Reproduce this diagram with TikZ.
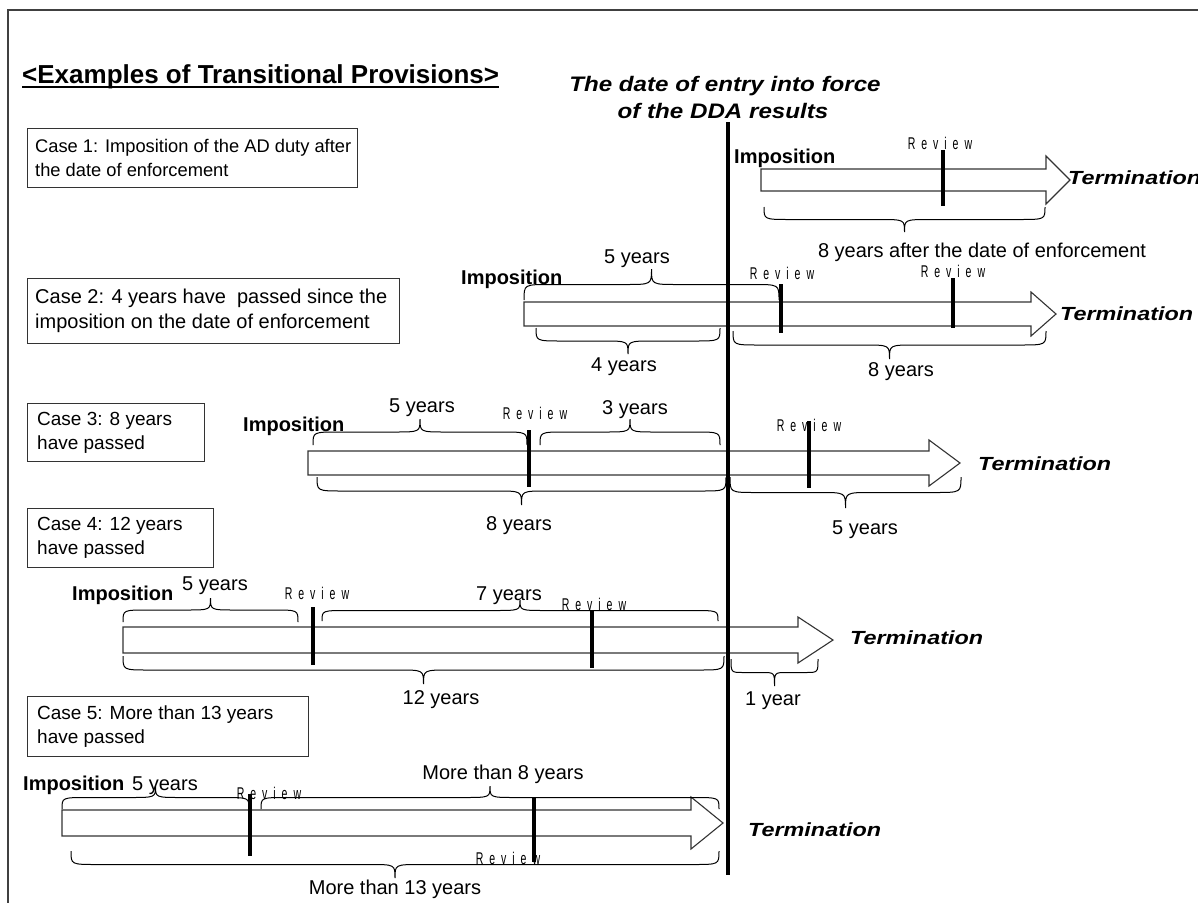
\documentclass[tikz,border=0pt]{standalone}
\usepackage{fontspec}
\setmainfont{Liberation Sans}
\newfontfamily\revfont{Liberation Sans}[FakeStretch=0.62,LetterSpace=35]
\newfontfamily\termfont{Liberation Sans}[FakeStretch=1.23]
\newfontfamily\hdrfont{Liberation Sans}[FakeStretch=1.15]
\newcommand{\tbrace}[4]{%
  \pgfmathsetmacro{\bxm}{(#1+#2)/2}%
  \pgfmathsetmacro{\bym}{(#3+#4)/2}%
  \pgfmathsetmacro{\brr}{min(26,(#2-#1)/7)}%
  \draw[brc] (#1,#3) .. controls (#1,\bym) .. (#1+\brr,\bym) -- (\bxm-\brr,\bym) .. controls (\bxm,\bym) .. (\bxm,#4) .. controls (\bxm,\bym) .. (\bxm+\brr,\bym) -- (#2-\brr,\bym) .. controls (#2,\bym) .. (#2,#3);%
}
\newcommand{\blockarrow}[6]{%
  \draw[body] (#1,#4-#5) -- (#2,#4-#5) -- (#2,#4-#6) -- (#3,#4) -- (#2,#4+#6) -- (#2,#4+#5) -- (#1,#4+#5) -- cycle;%
}
\begin{document}
\begin{tikzpicture}[x=1pt,y=-1pt,
  frame/.style={draw=black!75, line width=1.2pt},
  body/.style={draw=black!80, line width=1.1pt, fill=white, line join=miter},
  tick/.style={line width=3.5pt, black},
  vline/.style={line width=4pt, black},
  brc/.style={draw=black, line width=1pt},
  lab/.style={font=\fontsize{20}{24}\selectfont, inner sep=0pt, anchor=base},
  imp/.style={font=\fontsize{20}{24}\selectfont\bfseries, inner sep=0pt, anchor=base west},
  term/.style={font=\termfont\fontsize{19}{22}\selectfont\bfseries\itshape, inner sep=0pt, anchor=base west},
  rev/.style={font=\revfont\fontsize{17}{20}\selectfont, inner sep=0pt, anchor=base},
  hdr/.style={font=\hdrfont\fontsize{21}{25}\selectfont\bfseries\itshape, inner sep=0pt, anchor=base},
  casebox/.style={draw=black!80, line width=1.2pt, anchor=north west, inner sep=0pt},
  boxtext/.style={font=\fontsize{19}{24}\selectfont, align=left, anchor=west, inner sep=0pt},
]
\useasboundingbox (0,0) rectangle (1198,902);
\fill[white] (0,0) rectangle (1198,902);
% frame
\draw[frame] (8,903) -- (8,10) -- (1199,10);
% title
\node[font=\fontsize{26}{31}\selectfont\bfseries, inner sep=0pt, anchor=base west] (title) at (22,83) {<Examples of Transitional Provisions>};
\draw[line width=1.8pt] ([yshift=-4pt]title.base west) -- ([yshift=-4pt]title.base east);
% header
\node[hdr] (h1) at (725,91) {The date of entry into force};
\node[hdr] (h2) at (723,118) {of the DDA results};

% case boxes
\node[casebox, minimum width=330pt, minimum height=59pt] (c1) at (27,128) {};
\node[boxtext, font=\fontsize{18.3}{24}\selectfont] (c1t) at ([xshift=8pt]c1.west) {Case 1: Imposition of the AD duty after\\the date of enforcement};
\node[casebox, minimum width=372pt, minimum height=65pt] (c2) at (27,278) {};
\node[boxtext, font=\fontsize{20}{25}\selectfont] (c2t) at ([xshift=8pt]c2.west) {Case 2: 4 years have~ passed since the\\imposition on the date of enforcement};
\node[casebox, minimum width=177pt, minimum height=58pt] (c3) at (27,403) {};
\node[boxtext] (c3t) at ([xshift=10pt]c3.west) {Case 3: 8 years\\have passed};
\node[casebox, minimum width=186pt, minimum height=59pt] (c4) at (27,508) {};
\node[boxtext] (c4t) at ([xshift=10pt]c4.west) {Case 4: 12 years\\have passed};
\node[casebox, minimum width=281pt, minimum height=60pt] (c5) at (27,696) {};
\node[boxtext] (c5t) at ([xshift=10pt]c5.west) {Case 5: More than 13 years\\have passed};

% arrows
\blockarrow{761}{1046}{1070}{180}{11}{24}
\blockarrow{524}{1031}{1056}{314}{12}{22}
\blockarrow{308}{929}{960}{463}{12}{23}
\blockarrow{123}{798}{833}{640}{13}{23}
\blockarrow{62}{691}{723}{823}{13}{26}

% ticks
\draw[tick] (943,150) -- (943,206);
\draw[tick] (781,284) -- (781,333);
\draw[tick] (953,278) -- (953,328);
\draw[tick] (529,430) -- (529,487);
\draw[tick] (809,421) -- (809,488);
\draw[tick] (313,607) -- (313,665);
\draw[tick] (592,611) -- (592,668);
\draw[tick] (250,794) -- (250,856);
\draw[tick] (534,798) -- (534,862);

% braces
\tbrace{764}{1045}{207}{232}
\tbrace{524}{779}{300}{269}
\tbrace{536}{720}{328}{354}
\tbrace{733}{1046}{331}{359}
\tbrace{313}{527}{445}{419}
\tbrace{540}{720}{445}{419}
\tbrace{317}{726}{477}{505}
\tbrace{730}{961}{477}{508}
\tbrace{123}{298}{622}{598}
\tbrace{322}{718}{621}{600}
\tbrace{123}{724}{656}{684}
\tbrace{731}{818}{659}{686}
\tbrace{62}{249}{809}{786}
\tbrace{261}{719}{809}{786}
\tbrace{71}{719}{851}{878}

% vertical line
\coordinate (vt) at (728,122);
\coordinate (vb) at (728,875);
\draw[vline] (vt) -- (vb);

% Imposition labels
\node[imp] (i1) at (734,163) {Imposition};
\node[imp] (i2) at (461,284) {Imposition};
\node[imp] (i3) at (243,431) {Imposition};
\node[imp] (i4) at (72,600) {Imposition};
\node[imp] (i5) at (23,790) {Imposition};

% Termination labels
\node[term] (t1) at (1068,184) {Termination};
\node[term] (t2) at (1060,320) {Termination};
\node[term] (t3) at (978,470) {Termination};
\node[term] (t4) at (850,644) {Termination};
\node[term] (t5) at (748,836) {Termination};

% Review labels
\node[rev] (r1) at (940,149) {Review};
\node[rev] (r2a) at (782,279) {Review};
\node[rev] (r2b) at (953,277) {Review};
\node[rev] (r3a) at (535,419) {Review};
\node[rev] (r3b) at (809,431) {Review};
\node[rev] (r4a) at (317,599) {Review};
\node[rev] (r4b) at (594,610) {Review};
\node[rev] (r5a) at (269,799) {Review};
\node[rev] (r5b) at (508,864) {Review};

% brace labels
\node[lab] (l1) at (982,257) {8 years after the date of enforcement};
\node[lab] (l2a) at (637,263) {5 years};
\node[lab] (l2b) at (624,371) {4 years};
\node[lab] (l2c) at (901,376) {8 years};
\node[lab] (l3a) at (422,412) {5 years};
\node[lab] (l3b) at (635,414) {3 years};
\node[lab] (l3c) at (519,530) {8 years};
\node[lab] (l3d) at (865,534) {5 years};
\node[lab] (l4a) at (215,590) {5 years};
\node[lab] (l4b) at (509,600) {7 years};
\node[lab] (l4c) at (441,704) {12 years};
\node[lab] (l4d) at (773,705) {1 year};
\node[lab] (l5a) at (165,790) {5 years};
\node[lab] (l5b) at (503,779) {More than 8 years};
\node[lab] (l5c) at (395,894) {More than 13 years};
\end{tikzpicture}
\end{document}
